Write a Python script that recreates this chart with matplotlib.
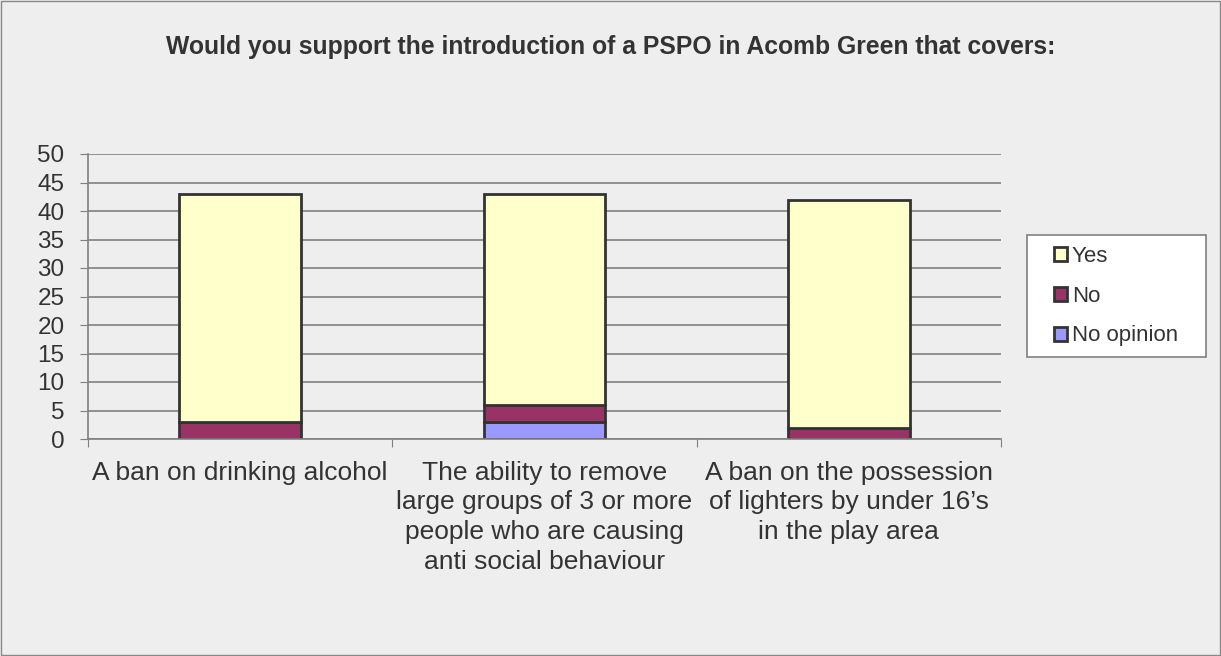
import matplotlib.pyplot as plt
import numpy as np

categories = ['A ban on drinking alcohol',
              'The ability to remove\nlarge groups of 3 or more\npeople who are causing\nanti social behaviour',
              'A ban on the possession\nof lighters by under 16\u2019s\nin the play area']
no_opinion = [0, 3, 0]
no         = [3, 3, 2]
yes        = [40, 37, 40]

BG = '#eeeeee'
plt.rcParams['font.family'] = 'Liberation Sans'

W, H = 1221, 656
fig = plt.figure(figsize=(W/100, H/100), dpi=100, facecolor=BG)
ax = fig.add_axes([88/W, 1 - 439/H, 913/W, 285/H], facecolor=BG)

x = np.arange(len(categories))
w = 0.4
edge = dict(edgecolor='#333333', linewidth=2)
b1 = ax.bar(x, no_opinion, w, color='#9999ff', label='No opinion', **edge)
b2 = ax.bar(x, no, w, bottom=no_opinion, color='#993366', label='No', **edge)
bottom2 = np.array(no_opinion) + np.array(no)
b3 = ax.bar(x, yes, w, bottom=bottom2, color='#ffffcc', label='Yes', **edge)

ax.set_xlim(-0.5, 2.5)
ax.set_ylim(0, 50)
ax.set_yticks(range(0, 51, 5))
ax.yaxis.grid(True, color='#808080', linewidth=1.2)
ax.set_axisbelow(True)
for s in ['top', 'right']:
    ax.spines[s].set_visible(False)
for s in ['left', 'bottom']:
    ax.spines[s].set_color('#808080')
    ax.spines[s].set_linewidth(1.2)

ax.set_xticks([-0.5, 0.5, 1.5, 2.5])
ax.set_xticklabels([])
ax.set_xticks(x, minor=True)
ax.set_xticklabels(categories, minor=True, fontsize=19, color='#333333', linespacing=1.31)
ax.tick_params(axis='x', which='minor', length=0, pad=15.5)
ax.tick_params(axis='x', which='major', length=6, color='#808080', direction='out')
ax.tick_params(axis='y', length=6, color='#808080', labelsize=17.5, labelcolor='#333333', pad=11)

fig.text(0.5, 1 - 47/H, 'Would you support the introduction of a PSPO in Acomb Green that covers:',
         ha='center', va='center', fontsize=17.8, fontweight='bold', color='#333333')

# legend box
fig.patches.append(plt.Rectangle((1027/W, 1 - 357/H), 179/W, 122/H, transform=fig.transFigure,
                                 facecolor='white', edgecolor='#808080', linewidth=1.2, zorder=1))
leg = fig.legend(handles=[b3, b2, b1], labels=['Yes', 'No', 'No opinion'],
                 loc='center', bbox_to_anchor=(1116/W, 1 - 296/H),
                 fontsize=16, frameon=False,
                 handlelength=0.6, handleheight=0.6, handletextpad=0.2,
                 labelspacing=0.85, borderpad=0.2, borderaxespad=0, labelcolor='#333333')

fig.patches.append(plt.Rectangle((0.001, 0.002), 0.998, 0.996, transform=fig.transFigure,
                                 fill=False, edgecolor='#888888', linewidth=1))

fig.savefig('out.png', dpi=100, facecolor=BG)
